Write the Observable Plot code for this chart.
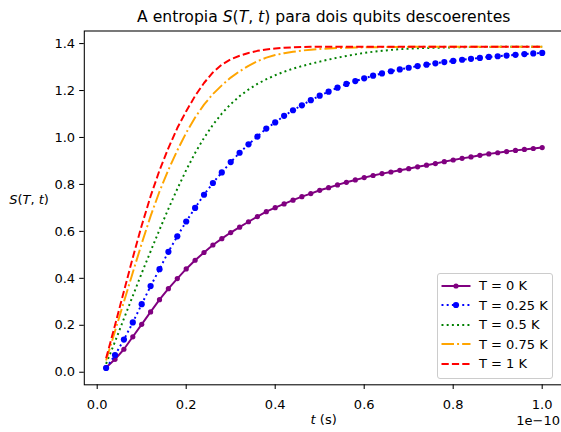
<!DOCTYPE html>
<html><head><meta charset="utf-8">
<script src="https://cdn.jsdelivr.net/npm/d3@7"></script>
<script src="https://cdn.jsdelivr.net/npm/@observablehq/plot@0.6"></script>
<style>
body{margin:0;background:#fff;font-family:"DejaVu Sans",sans-serif;color:#000;}
#wrap{position:relative;width:561px;height:432px;overflow:hidden;background:#fff;}
.abs{position:absolute;white-space:nowrap;font-size:13px;line-height:15px;}
#title{position:absolute;top:7.6px;left:84px;width:479.5px;text-align:center;font-size:15.6px;line-height:18px;white-space:nowrap;}
#legend{position:absolute;left:437px;top:273px;width:116px;height:106px;box-sizing:border-box;border:1px solid #cccccc;border-radius:3px;background:rgba(255,255,255,0.8);}
#legend .row{position:absolute;left:0;width:114px;height:15px;}
#legend svg{position:absolute;left:3px;top:2.5px;}
#legend span{position:absolute;left:41px;top:0;font-size:13px;line-height:15px;white-space:nowrap;}
</style></head><body>
<div id="wrap">
  <div id="title">A entropia <i>S</i>(<i>T</i>, <i>t</i>) para dois qubits descoerentes</div>
  <div id="chart" style="position:absolute;top:24px;left:0;"></div>
  <div class="abs" id="ylab" style="left:29px;top:192px;transform:translateX(-50%);"><i>S</i>(<i>T</i>, <i>t</i>)</div>
  <div class="abs" id="xlab" style="left:323.7px;top:412px;transform:translateX(-50%);"><i>t</i> (s)</div>
  <div class="abs" id="offset" style="right:1px;top:413.5px;line-height:13px;">1e−10</div>
  <div id="legend"></div>
</div>
<script>
const tVals = [0.02,0.04,0.06,0.08,0.10,0.12,0.14,0.16,0.18,0.20,
  0.22,0.24,0.26,0.28,0.30,0.32,0.34,0.36,0.38,0.40,
  0.42,0.44,0.46,0.48,0.50,0.52,0.54,0.56,0.58,0.60,
  0.62,0.64,0.66,0.68,0.70,0.72,0.74,0.76,0.78,0.80,
  0.82,0.84,0.86,0.88,0.90,0.92,0.94,0.96,0.98,1.00];

const sT0 = [0.020,0.055,0.098,0.151,0.204,0.257,0.309,0.356,0.399,0.440,
  0.477,0.510,0.542,0.569,0.595,0.618,0.641,0.663,0.684,0.701,
  0.717,0.733,0.748,0.761,0.775,0.786,0.798,0.809,0.819,0.829,
  0.838,0.846,0.853,0.860,0.867,0.875,0.882,0.889,0.897,0.904,
  0.911,0.917,0.924,0.930,0.935,0.940,0.945,0.949,0.953,0.957];

const sT025 = [0.018,0.073,0.139,0.212,0.290,0.367,0.439,0.513,0.579,0.642,
  0.700,0.756,0.806,0.851,0.895,0.935,0.971,1.004,1.038,1.064,
  1.092,1.116,1.137,1.159,1.178,1.195,1.212,1.228,1.240,1.252,
  1.263,1.273,1.282,1.290,1.297,1.304,1.310,1.316,1.321,1.326,
  1.331,1.335,1.339,1.343,1.346,1.349,1.352,1.355,1.358,1.360];

const sT05 = [0.036,0.130,0.228,0.325,0.422,0.515,0.607,0.696,0.781,0.861,
  0.934,0.998,1.054,1.102,1.142,1.176,1.204,1.228,1.248,1.265,
  1.280,1.293,1.304,1.314,1.323,1.332,1.340,1.347,1.354,1.360,
  1.365,1.369,1.373,1.376,1.378,1.380,1.381,1.382,1.383,1.384,
  1.384,1.385,1.385,1.385,1.386,1.386,1.386,1.386,1.386,1.386];

const sT075 = [0.050,0.175,0.300,0.425,0.548,0.665,0.770,0.862,0.945,1.020,
  1.085,1.140,1.185,1.222,1.255,1.282,1.305,1.325,1.340,1.351,
  1.359,1.365,1.370,1.374,1.377,1.379,1.381,1.382,1.383,1.384,
  1.384,1.385,1.385,1.385,1.386,1.386,1.386,1.386,1.386,1.386,
  1.386,1.386,1.386,1.386,1.386,1.386,1.386,1.386,1.386,1.386];

const sT1 = [0.060,0.200,0.345,0.488,0.625,0.750,0.860,0.955,1.040,1.112,
  1.177,1.232,1.277,1.310,1.333,1.348,1.360,1.369,1.375,1.379,
  1.382,1.384,1.385,1.386,1.386,1.386,1.386,1.386,1.386,1.386,
  1.386,1.386,1.386,1.386,1.386,1.386,1.386,1.386,1.386,1.386,
  1.386,1.386,1.386,1.386,1.386,1.386,1.386,1.386,1.386,1.386];

const seriesLabels = ["T = 0 K","T = 0.25 K","T = 0.5 K","T = 0.75 K","T = 1 K"];
const xTicks = [0.0,0.2,0.4,0.6,0.8,1.0];
const yTicks = [0.0,0.2,0.4,0.6,0.8,1.0,1.2,1.4];

const rows = vals => tVals.map((t,i)=>({t, v: vals[i]}));
const LW = 1.96;
const styles = [
  {stroke:"purple", dash:null, r:2.6},
  {stroke:"blue", dash:"1.96 3.23", r:3.1},
  {stroke:"green", dash:"1.96 3.23", r:0},
  {stroke:"orange", dash:"12.5 3.1 1.96 3.1", r:0},
  {stroke:"red", dash:"7.25 3.13", r:0}
];
const allSeries = [sT0, sT025, sT05, sT075, sT1];

const marks = [];
allSeries.forEach((vals,i)=>{
  const s = styles[i];
  const opts = {x:"t", y:"v", stroke:s.stroke, strokeWidth:LW, strokeLinecap: s.dash ? "butt" : "round"};
  if (s.dash) opts.strokeDasharray = s.dash;
  marks.push(Plot.line(rows(vals), opts));
  if (s.r) marks.push(Plot.dot(rows(vals), {x:"t", y:"v", r:s.r, fill:s.stroke}));
});
marks.push(Plot.axisX({ticks:xTicks, tickSize:4.6, tickPadding:10, tickFormat:d=>d.toFixed(1), label:null, strokeWidth:1.05, fontSize:13}));
marks.push(Plot.axisY({ticks:yTicks, tickSize:4.6, tickPadding:4.6, tickFormat:d=>d.toFixed(1), label:null, strokeWidth:1.05, fontSize:13}));
marks.push(Plot.frame({stroke:"#000", strokeWidth:1.05}));

const chart = Plot.plot({
  width:561, height:408,
  marginLeft:83.8, marginRight:-2.5, marginTop:6.5, marginBottom:47.7,
  style:{fontFamily:"DejaVu Sans", fontSize:"13px", color:"#000", background:"transparent"},
  x:{domain:[-0.029,1.049]},
  y:{domain:[-0.0535,1.4535]},
  marks
});
document.getElementById("chart").appendChild(chart);

// legend
const legend = document.getElementById("legend");
const centers = [12.5, 32.1, 51.7, 71.3, 90.9];
seriesLabels.forEach((lab,i)=>{
  const s = styles[i];
  const row = document.createElement("div");
  row.className = "row";
  row.style.top = (centers[i]-1-7.5) + "px";
  const ns = "http://www.w3.org/2000/svg";
  const svg = document.createElementNS(ns,"svg");
  svg.setAttribute("width","30"); svg.setAttribute("height","10");
  const ln = document.createElementNS(ns,"line");
  ln.setAttribute("x1","0.5"); ln.setAttribute("x2","29.5");
  ln.setAttribute("y1","5"); ln.setAttribute("y2","5");
  ln.setAttribute("stroke", s.stroke); ln.setAttribute("stroke-width", LW);
  if (s.dash) { ln.setAttribute("stroke-dasharray", s.dash); ln.setAttribute("stroke-linecap","butt"); }
  svg.appendChild(ln);
  if (s.r) {
    const c = document.createElementNS(ns,"circle");
    c.setAttribute("cx","15"); c.setAttribute("cy","5"); c.setAttribute("r", s.r);
    c.setAttribute("fill", s.stroke);
    svg.appendChild(c);
  }
  row.appendChild(svg);
  const sp = document.createElement("span");
  sp.textContent = lab;
  row.appendChild(sp);
  legend.appendChild(row);
});
</script>
</body></html>
